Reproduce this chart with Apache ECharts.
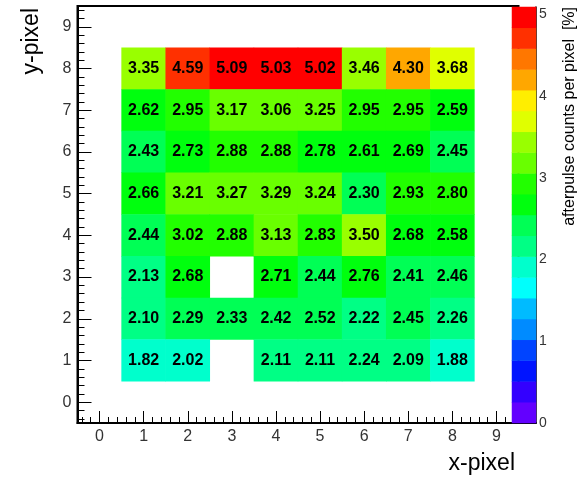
<!DOCTYPE html>
<html>
<head>
<meta charset="utf-8">
<script src="https://cdn.jsdelivr.net/npm/echarts@6/dist/echarts.min.js"></script>
<style>
  html, body { margin: 0; padding: 0; background: #ffffff; }
  #chart { width: 581px; height: 478px; }
</style>
</head>
<body>
<div id="chart"></div>
<script>
// Pixel grid categories (0..9 on both axes)
const pixelCategories = ['0', '1', '2', '3', '4', '5', '6', '7', '8', '9'];

// Columns filled in each row (x-pixel)
const colX = [1, 2, 3, 4, 5, 6, 7, 8];

// Afterpulse counts per pixel [%], one array per y-pixel row (null = empty pixel)
const row8 = [3.35, 4.59, 5.09, 5.03, 5.02, 3.46, 4.30, 3.68];
const row7 = [2.62, 2.95, 3.17, 3.06, 3.25, 2.95, 2.95, 2.59];
const row6 = [2.43, 2.73, 2.88, 2.88, 2.78, 2.61, 2.69, 2.45];
const row5 = [2.66, 3.21, 3.27, 3.29, 3.24, 2.30, 2.93, 2.80];
const row4 = [2.44, 3.02, 2.88, 3.13, 2.83, 3.50, 2.68, 2.58];
const row3 = [2.13, 2.68, null, 2.71, 2.44, 2.76, 2.41, 2.46];
const row2 = [2.10, 2.29, 2.33, 2.42, 2.52, 2.22, 2.45, 2.26];
const row1 = [1.82, 2.02, null, 2.11, 2.11, 2.24, 2.09, 1.88];

// Tick labels
const xTicks = [0, 1, 2, 3, 4, 5, 6, 7, 8, 9];
const yTicks = [0, 1, 2, 3, 4, 5, 6, 7, 8, 9];
const zTicks = [0, 1, 2, 3, 4, 5];

// Colour scale: 20 contour levels from 0 to the maximum
const zMin = 0;
const zMax = 5.088;
const levelColors = [
  '#6300ff', '#3300ff', '#0014ff', '#0044ff', '#008bff',
  '#00bbff', '#00fffc', '#00ffcc', '#00ff85', '#00ff55',
  '#00ff0e', '#22ff00', '#69ff00', '#99ff00', '#e0ff00',
  '#ffee00', '#ffa700', '#ff7700', '#ff3000', '#ff0000'
];

const FONT = 'Liberation Sans, Arial, Helvetica, sans-serif';
const nLevels = levelColors.length;
const step = (zMax - zMin) / nLevels;

// Heatmap cells [x, y, value]
const rows = [[8, row8], [7, row7], [6, row6], [5, row5], [4, row4], [3, row3], [2, row2], [1, row1]];
const cellData = [];
rows.forEach(([y, vals]) => {
  vals.forEach((v, i) => {
    if (v !== null) cellData.push([colX[i], y, v]);
  });
});

// Colour bar: one cell per contour level
const levelCategories = levelColors.map((c, i) => String(i));
const barData = levelColors.map((c, i) => [0, i, zMin + (i + 0.5) * step]);

const pieces = levelColors.map((c, i) => {
  const p = { gte: zMin + i * step, color: c };
  if (i < nLevels - 1) p.lt = zMin + (i + 1) * step;
  return p;
});

const chart = echarts.init(document.getElementById('chart'), null, { renderer: 'canvas' });

const valueAxisCommon = {
  type: 'value',
  min: -0.5,
  max: 9.5,
  splitNumber: 10,
  splitLine: { show: false },
  axisLine: { show: true, lineStyle: { color: '#000', width: 2 } },
  minorSplitLine: { show: false }
};

chart.setOption({
  animation: false,
  backgroundColor: '#ffffff',
  grid: [
    { left: 77.5, right: 62.5, top: 6, bottom: 55, show: true, borderColor: '#000', borderWidth: 2, backgroundColor: 'transparent' },
    { left: 512, right: 45, top: 7, bottom: 55 }
  ],
  xAxis: [
    { type: 'category', gridIndex: 0, data: pixelCategories, show: false },
    Object.assign({}, valueAxisCommon, {
      gridIndex: 0,
      position: 'bottom',
      axisTick: { show: true, inside: true, length: 12, lineStyle: { color: '#000', width: 1 }, customValues: xTicks },
      minorTick: { show: true, splitNumber: 5, length: 6, lineStyle: { color: '#000', width: 1 } },
      axisLabel: { customValues: xTicks, fontSize: 16, color: '#333', margin: 6, fontFamily: FONT }
    }),
    { type: 'category', gridIndex: 1, data: [''], axisLine: { show: true, lineStyle: { color: '#000', width: 2 } }, axisTick: { show: false }, axisLabel: { show: false } }
  ],
  yAxis: [
    { type: 'category', gridIndex: 0, data: pixelCategories, show: false },
    Object.assign({}, valueAxisCommon, {
      gridIndex: 0,
      position: 'left',
      axisTick: { show: true, inside: true, length: 14, lineStyle: { color: '#000', width: 1 }, customValues: yTicks },
      minorTick: { show: true, splitNumber: 5, length: 7, lineStyle: { color: '#000', width: 1 } },
      axisLabel: { customValues: yTicks, fontSize: 16, color: '#333', margin: 6, fontFamily: FONT }
    }),
    { type: 'category', gridIndex: 1, data: levelCategories, show: false },
    {
      type: 'value', gridIndex: 1, position: 'right', min: zMin, max: zMax,
      splitLine: { show: false },
      axisLine: { show: true, lineStyle: { color: '#000', width: 1.5 } },
      axisTick: { show: true, inside: true, length: 12, lineStyle: { color: '#000', width: 1.5 }, customValues: zTicks },
      axisLabel: { customValues: zTicks, fontSize: 14, color: '#333', margin: 3, fontFamily: FONT }
    }
  ],
  visualMap: {
    type: 'piecewise',
    show: false,
    dimension: 2,
    seriesIndex: [0, 1],
    pieces: pieces
  },
  series: [
    {
      type: 'heatmap',
      xAxisIndex: 0,
      yAxisIndex: 0,
      data: cellData,
      label: {
        show: true,
        formatter: (p) => p.value[2].toFixed(2),
        fontSize: 16,
        fontWeight: 'bold',
        color: '#000',
        fontFamily: FONT
      },
      emphasis: { disabled: true }
    },
    {
      type: 'heatmap',
      xAxisIndex: 2,
      yAxisIndex: 2,
      data: barData,
      label: { show: false },
      emphasis: { disabled: true }
    }
  ],
  graphic: [
    {
      type: 'text', x: 32, y: 8, rotation: Math.PI / 2,
      style: { text: 'y-pixel', font: '23px ' + FONT, fill: '#000', align: 'right', verticalAlign: 'middle' }
    },
    {
      type: 'text', x: 515, y: 464,
      style: { text: 'x-pixel', font: '23px ' + FONT, fill: '#000', align: 'right', verticalAlign: 'middle' }
    },
    {
      type: 'text', x: 570, y: 7, rotation: Math.PI / 2,
      style: { text: 'afterpulse counts per pixel  [%]', font: '16px ' + FONT, fill: '#000', align: 'right', verticalAlign: 'middle' }
    }
  ]
});
</script>
</body>
</html>
